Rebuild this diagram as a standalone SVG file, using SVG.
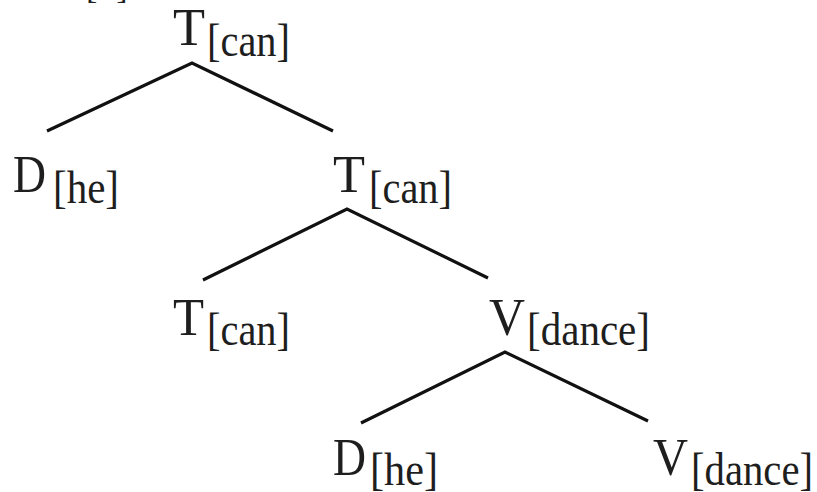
<svg xmlns="http://www.w3.org/2000/svg" width="817" height="492" viewBox="0 0 817 492">
<style>
text{font-family:"Liberation Serif","DejaVu Serif",serif;font-size:53px;fill:#1e1e1e;}
text.sub{font-size:47px;}
.frag{font-size:34px;}
.edge{stroke:#111;stroke-width:3.2;stroke-linecap:butt;stroke-linejoin:miter;fill:none;}
</style>
<rect width="817" height="492" fill="#fff"/>
<text class="frag" x="86" y="-2">[S].</text>
<g id="edges">
<polyline class="edge" points="47,131 192,63 333,131"/>
<polyline class="edge" points="203,280 347,209 488,278"/>
<polyline class="edge" points="361,423 505,352 648,421"/>
</g>
<g id="n-T-top">
<text x="173" y="45" textLength="32" lengthAdjust="spacingAndGlyphs">T</text>
<text class="sub" x="207" y="56" textLength="83" lengthAdjust="spacingAndGlyphs">[can]</text>
</g>
<g id="n-D-he-1">
<text x="13" y="192" textLength="33" lengthAdjust="spacingAndGlyphs">D</text>
<text class="sub" x="53" y="203" textLength="66" lengthAdjust="spacingAndGlyphs">[he]</text>
</g>
<g id="n-T-mid">
<text x="333" y="192" textLength="32" lengthAdjust="spacingAndGlyphs">T</text>
<text class="sub" x="369" y="203" textLength="83" lengthAdjust="spacingAndGlyphs">[can]</text>
</g>
<g id="n-T-low">
<text x="173" y="335" textLength="31" lengthAdjust="spacingAndGlyphs">T</text>
<text class="sub" x="207" y="345" textLength="83" lengthAdjust="spacingAndGlyphs">[can]</text>
</g>
<g id="n-V-mid">
<text x="489" y="335" textLength="36" lengthAdjust="spacingAndGlyphs">V</text>
<text class="sub" x="527" y="345" textLength="123" lengthAdjust="spacingAndGlyphs">[dance]</text>
</g>
<g id="n-D-he-2">
<text x="333" y="475" textLength="33" lengthAdjust="spacingAndGlyphs">D</text>
<text class="sub" x="370" y="485" textLength="68" lengthAdjust="spacingAndGlyphs">[he]</text>
</g>
<g id="n-V-low">
<text x="653" y="475" textLength="35" lengthAdjust="spacingAndGlyphs">V</text>
<text class="sub" x="691" y="485" textLength="122" lengthAdjust="spacingAndGlyphs">[dance]</text>
</g>
</svg>
